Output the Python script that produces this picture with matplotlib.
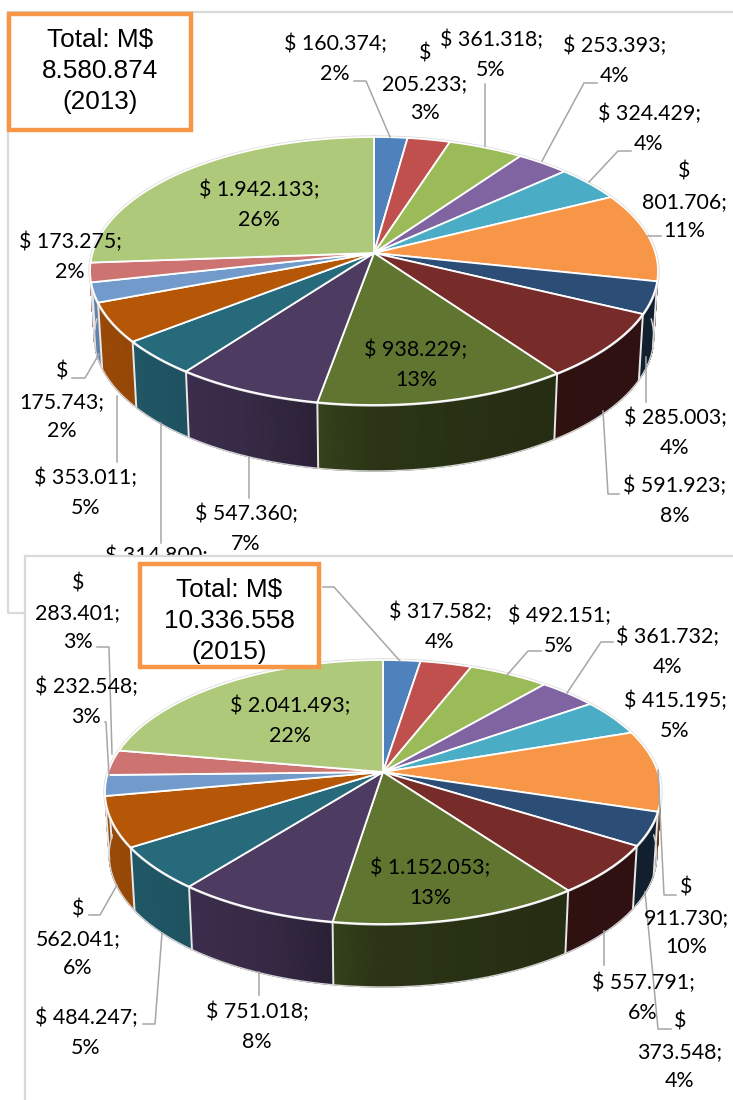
import matplotlib
matplotlib.use("Agg")
import matplotlib.pyplot as plt
import numpy as np
from matplotlib.patches import Rectangle

FRAME_GREY = "#d9d9d9"
LEADER_GREY = "#a6a6a6"
BOX_ORANGE = "#f79646"
LABEL_FONT = "Lato"
BOX_FONT = "Liberation Sans"

slice_colors = [
    "#4f81bd", "#c0504d", "#9bbb59", "#8064a2", "#4bacc6",
    "#f79646", "#2c4d75", "#772c2a", "#5f7530", "#4d3b62",
    "#276a7c", "#b65708", "#729aca", "#cd7371", "#afc97a",
]

# values in thousands, clockwise from 12 o'clock
values_2013 = [160.374, 205.233, 361.318, 253.393, 324.429, 801.706, 285.003, 591.923,
               938.229, 547.360, 314.800, 353.011, 175.743, 173.275, 1942.133]
percent_2013 = [2, 3, 5, 4, 4, 11, 4, 8, 13, 7, 4, 5, 2, 2, 26]

# the first slice's label sits behind the total box in the source, value is a guess
values_2015 = [230.000, 317.582, 492.151, 361.732, 415.195, 911.730, 373.548, 557.791,
               1152.053, 751.018, 484.247, 562.041, 232.548, 283.401, 2041.493]
percent_2015 = [3, 4, 5, 4, 5, 10, 4, 6, 13, 8, 5, 6, 3, 3, 22]

# label layout: x centre, y of first line, wrapped after the dollar sign or not
layout_2013 = [
    (335, 44, False), (425, 54, True), (491, 40, False), (615, 46, False), (649, 114, False),
    (684, 172, True), (675, 418, False), (675, 486, False), (416, 350, False), (246, 514, False),
    (156, 556, False), (86, 478, False), (62, 372, True), (70, 242, False), (259, 190, False),
]
layout_2015 = [
    None, (440, 612, False), (559, 616, False), (668, 637, False), (675, 701, False),
    (686, 888, True), (680, 1022, True), (643, 983, False), (430, 868, False), (257, 1012, False),
    (86, 1018, False), (78, 909, True), (86, 687, False), (78, 583, True), (290, 706, False),
]

leaders_2013 = [
    [(354, 81), (366, 81), (390, 137)],
    [(485, 84), (485, 146)],
    [(597, 83), (584, 83), (542, 161)],
    [(631, 151), (618, 151), (589, 182)],
    [(661, 236), (647, 236)],
    [(646, 402), (646, 357)],
    [(619, 494), (608, 494), (603, 411)],
    [(249, 498), (249, 457)],
    [(161, 543), (161, 423)],
    [(117, 462), (117, 396)],
    [(72, 378), (85, 378), (99, 354)],
]
leaders_2015 = [
    [(323, 587), (334, 587), (400, 661)],
    [(541, 651), (528, 651), (507, 675)],
    [(613, 642), (601, 642), (567, 693)],
    [(676, 895), (664, 895), (658, 770)],
    [(671, 1029), (658, 1029), (645, 892)],
    [(604, 965), (604, 931)],
    [(259, 995), (259, 972)],
    [(143, 1024), (155, 1024), (162, 933)],
    [(89, 915), (100, 915), (117, 885)],
    [(105, 722), (106, 722), (109, 776)],
    [(97, 647), (109, 647), (112, 754)],
]


def rim_points(angles, cx, cy, rx, up, down):
    # circle seen in perspective: the far half is squeezed, hub sits above the ellipse centre
    k = (down - up) / (down + up)
    a = up * (1 + k)
    b = rx * np.sqrt(1 - k**2)
    u, v = np.sin(angles), np.cos(angles)
    return cx + b * u / (1 + k * v), cy - a * v / (1 + k * v)


def shade(color, u):
    factor = np.interp(u, [-1, -0.8, -0.4, -0.2, 0, 0.5, 1], [0.85, 0.82, 0.72, 0.58, 0.45, 0.39, 0.4])
    return np.outer(factor, matplotlib.colors.to_rgb(color))


def draw_pie(ax, values, cx, cy, rx, up, down, depth):
    edges = np.concatenate([[0], np.cumsum(values)]) / np.sum(values) * 2 * np.pi
    taper = 0.985

    # side wall first, back slices before front ones, the top face covers the rest
    order = sorted(range(len(values)), key=lambda i: -np.cos((edges[i] + edges[i + 1]) / 2))
    for i in order:
        theta = np.linspace(edges[i], edges[i + 1], 60)
        x, y = rim_points(theta, cx, cy, rx, up, down)
        xx = np.vstack([x, cx + (x - cx) * taper])
        yy = np.vstack([y, y + depth])
        rgb = shade(slice_colors[i], np.sin(theta))
        ax.pcolormesh(xx, yy, np.stack([rgb, rgb]), shading="gouraud", zorder=2)

    # white seams on the visible part of the wall
    for edge in edges:
        if np.cos(edge) < 0.1:
            x, y = rim_points(edge, cx, cy, rx, up, down)
            ax.plot([x, cx + (x - cx) * taper], [y, y + depth], color="#e8e8e8", lw=1.4, zorder=3)

    # soft outline of the wall's lower edge
    theta = np.linspace(np.pi / 2, 3 * np.pi / 2, 200)
    x, y = rim_points(theta, cx, cy, rx, up, down)
    ax.plot(cx + (x - cx) * taper, y + depth, color="#d4d4d4", lw=1.0, zorder=3)

    # top face
    for i, color in enumerate(slice_colors):
        theta = np.linspace(edges[i], edges[i + 1], 80)
        x, y = rim_points(theta, cx, cy, rx, up, down)
        ax.fill(np.r_[cx, x], np.r_[cy, y], facecolor=color, edgecolor="white", lw=1.3, zorder=4)

    theta = np.linspace(0, 2 * np.pi, 300)
    x, y = rim_points(theta, cx, cy, rx + 1, up + 1, down + 1)
    ax.plot(x, y, color="#d8d8d8", lw=0.9, zorder=3.5)


def draw_labels(ax, values, percents, layout, zorder=6):
    for value, pct, spot in zip(values, percents, layout):
        if spot is None:
            continue
        x, y, wrapped = spot
        number = f"{value:,.3f};".replace(",", ".")
        lines = ["$", number, f"{pct}%"] if wrapped else [f"$ {number}", f"{pct}%"]
        for n, line in enumerate(lines):
            ax.text(x, y + n * 29.6, line, ha="center", va="center", fontsize=15.4,
                    family=LABEL_FONT, color="black", zorder=zorder)


def draw_leaders(ax, leaders):
    for path in leaders:
        xs, ys = zip(*path)
        ax.plot(xs, ys, color=LEADER_GREY, lw=1.1, zorder=5)


def draw_total_box(ax, x0, y0, x1, y1, lines, y_first):
    ax.add_patch(Rectangle((x0, y0), x1 - x0, y1 - y0, facecolor="white", edgecolor=BOX_ORANGE,
                           lw=3.2, zorder=7))
    for n, line in enumerate(lines):
        ax.text((x0 + x1) / 2, y_first + n * 31, line, ha="center", va="center", fontsize=18.8,
                family=BOX_FONT, color="black", zorder=8)


fig = plt.figure(figsize=(7.33, 11), dpi=100)
ax = fig.add_axes([0, 0, 1, 1])
ax.set_xlim(0, 733)
ax.set_ylim(1100, 0)
ax.axis("off")

# frame of the upper chart, runs down behind the lower one
ax.plot([733, 8, 8, 25], [12, 12, 613, 613], color=FRAME_GREY, lw=1.6, zorder=1)

draw_leaders(ax, leaders_2013)
draw_pie(ax, values_2013, 374, 253, 284, 116, 152, 66)
draw_labels(ax, values_2013, percent_2013, layout_2013)
draw_total_box(ax, 9, 14, 191, 130, ["Total: M$", "8.580.874", "(2013)"], 40)

# lower chart has its own white panel, it clips the label that runs into it
ax.add_patch(Rectangle((25, 556), 720, 560, facecolor="white", edgecolor=FRAME_GREY, lw=1.6, zorder=6.5))

# second chart sits above the first one's panel
ax2 = fig.add_axes([0, 0, 1, 1], facecolor="none")
ax2.set_xlim(0, 733)
ax2.set_ylim(1100, 0)
ax2.axis("off")
draw_pie(ax2, values_2015, 383, 772, 278, 112, 152, 63)
draw_leaders(ax2, leaders_2015)
draw_labels(ax2, values_2015, percent_2015, layout_2015)
draw_total_box(ax2, 140, 564, 319, 667, ["Total: M$", "10.336.558", "(2015)"], 590)

fig.savefig("out.png", dpi=100, facecolor="white")
